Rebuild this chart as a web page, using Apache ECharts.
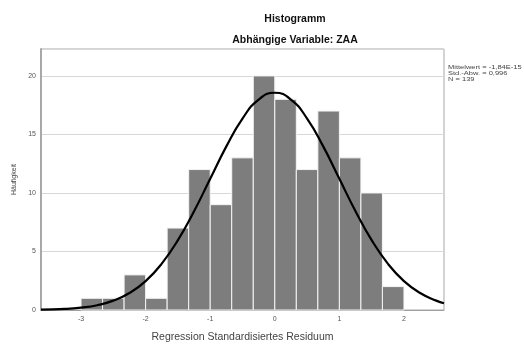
<!DOCTYPE html>
<html>
<head>
<meta charset="utf-8">
<script src="https://cdn.jsdelivr.net/npm/echarts@6/dist/echarts.min.js"></script>
<style>
  html, body { margin: 0; padding: 0; background: #fff; }
  #chart { width: 524px; height: 350px; }
</style>
</head>
<body>
<div id="chart"></div>
<script>
// Histogram bins of standardized residuals (bin edges and counts)
const binStart = [-3, -2.6667, -2.3333, -2, -1.6667, -1.3333, -1, -0.6667, -0.3333, 0, 0.3333, 0.6667, 1, 1.3333, 1.6667];
const binEnd   = [-2.6667, -2.3333, -2, -1.6667, -1.3333, -1, -0.6667, -0.3333, 0, 0.3333, 0.6667, 1, 1.3333, 1.6667, 2];
const counts   = [1, 1, 3, 1, 7, 12, 9, 13, 20, 18, 12, 17, 13, 10, 2];

// Normal curve overlay
const curveX = [-3.62, -3.25, -3, -2.75, -2.5, -2.25, -2, -1.75, -1.5, -1.25, -1, -0.75, -0.5, -0.25, 0,
                0.25, 0.5, 0.75, 1, 1.25, 1.5, 1.75, 2, 2.25, 2.5, 2.62];
const curveY = [0.03, 0.09, 0.20, 0.41, 0.80, 1.45, 2.47, 3.96, 5.97, 8.44, 11.21, 13.98, 16.36, 17.98, 18.56,
                17.98, 16.36, 13.98, 11.21, 8.44, 5.97, 3.96, 2.47, 1.45, 0.80, 0.58];

const xTickLabels = [-3, -2, -1, 0, 1, 2];
const yTickLabels = [0, 5, 10, 15, 20];

const titleText = 'Histogramm';
const subtitleText = 'Abhängige Variable: ZAA';
const statsLines = ['Mittelwert = -1,84E-15', 'Std.-Abw. = 0,996', 'N = 139'];

const barData = counts.map((c, i) => [binStart[i], binEnd[i], c]);
const curveData = curveX.map((x, i) => [x, curveY[i]]);

const chart = echarts.init(document.getElementById('chart'), null, { renderer: 'canvas' });
const font = 'Liberation Sans, Arial, sans-serif';

chart.setOption({
  animation: false,
  backgroundColor: '#ffffff',
  grid: {
    left: 41, right: 80, top: 49, bottom: 40,
    show: true, borderColor: '#a8a8a8', borderWidth: 1
  },
  xAxis: {
    type: 'value',
    min: -3.62, max: 2.62,
    name: 'Regression Standardisiertes Residuum',
    nameLocation: 'middle',
    nameGap: 22,
    nameTextStyle: { fontFamily: font, fontSize: 10.5, color: '#444' },
    axisLine: { show: true, onZero: false, lineStyle: { color: '#a0a0a0', width: 1 } },
    axisTick: { show: false },
    splitLine: { show: false },
    axisLabel: {
      customValues: xTickLabels,
      fontFamily: font, fontSize: 7, color: '#555', margin: 6
    }
  },
  yAxis: {
    type: 'value',
    min: 0, max: 22.3, interval: 5,
    name: 'Häufigkeit',
    nameLocation: 'middle',
    nameGap: 22,
    nameRotate: 90,
    nameTextStyle: { fontFamily: font, fontSize: 7, color: '#444' },
    axisLine: { show: true, onZero: false, lineStyle: { color: '#a8a8a8', width: 2 } },
    axisTick: { show: false },
    splitLine: { show: true, lineStyle: { color: '#d8d8d8', width: 1 } },
    axisLabel: {
      showMaxLabel: false,
      fontFamily: font, fontSize: 7, color: '#555', margin: 5
    }
  },
  series: [
    {
      type: 'custom',
      data: barData,
      encode: { x: [0, 1], y: 2 },
      z: 2,
      renderItem: function (params, api) {
        const p0 = api.coord([api.value(0), 0]);
        const p1 = api.coord([api.value(1), api.value(2)]);
        return {
          type: 'rect',
          shape: { x: p0[0], y: p1[1], width: p1[0] - p0[0], height: p0[1] - p1[1] },
          style: { fill: '#7d7d7d', stroke: '#f4f4f4', lineWidth: 1 }
        };
      }
    },
    {
      type: 'line',
      data: curveData,
      smooth: true,
      showSymbol: false,
      z: 3,
      lineStyle: { color: '#000', width: 2.2 }
    }
  ],
  graphic: [
    {
      type: 'text', x: 295, y: 14,
      style: { text: titleText, font: 'bold 10.5px ' + font, fill: '#111', align: 'center', textAlign: 'center' }
    },
    {
      type: 'text', x: 295, y: 35,
      style: { text: subtitleText, font: 'bold 10.5px ' + font, fill: '#111', align: 'center', textAlign: 'center' }
    },
    {
      type: 'text', x: 448, y: 64, scaleX: 1.25,
      style: { text: statsLines.join('\n'), font: '6px ' + font, fill: '#444', lineHeight: 6.2 }
    }
  ]
});
</script>
</body>
</html>
